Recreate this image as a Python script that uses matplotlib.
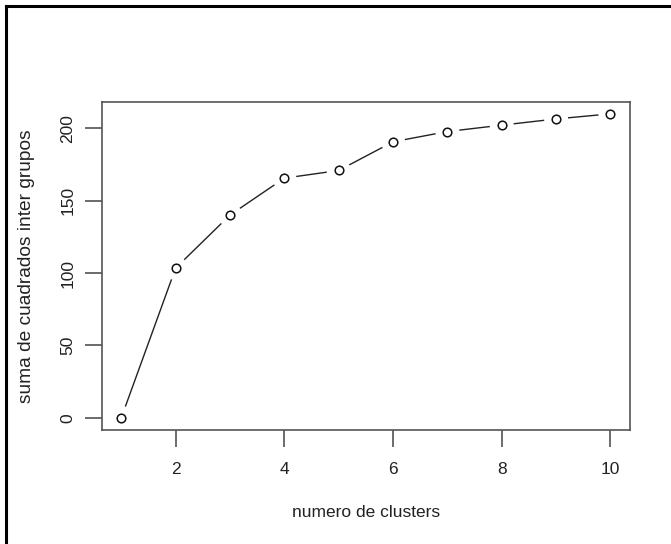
import numpy as np
import matplotlib
matplotlib.use("Agg")
import matplotlib.pyplot as plt
from matplotlib.lines import Line2D

# Between-group sum of squares for k = 1..10 clusters
clusters = [1, 2, 3, 4, 5, 6, 7, 8, 9, 10]
ss_between = [0, 103.4, 140.0, 165.5, 170.8, 190.6, 197.7, 202.1, 206.4, 209.9]
x_ticks = [2, 4, 6, 8, 10]
y_ticks = [0, 50, 100, 150, 200]

plt.rcParams["font.family"] = ["Liberation Sans", "DejaVu Sans"]

W, H, DPI = 671, 544, 100
fig = plt.figure(figsize=(W / DPI, H / DPI), dpi=DPI)
ax = fig.add_axes([101.7 / W, 1 - 430 / H, (630 - 101.7) / W, (430 - 101.7) / H])

# R-style 4% padding around the data range
xr = max(clusters) - min(clusters)
ymax = max(ss_between)
ax.set_xlim(min(clusters) - 0.04 * xr, max(clusters) + 0.04 * xr)
ax.set_ylim(0 - 0.04 * ymax, ymax + 0.04 * ymax)

# type="b": segments stopping short of each point
gap = 12.0  # pixels
pts = ax.transData.transform(np.column_stack([clusters, ss_between]))
inv = ax.transData.inverted()
for p0, p1 in zip(pts[:-1], pts[1:]):
    d = p1 - p0
    L = np.hypot(*d)
    if L <= 2 * gap:
        continue
    u = d / L
    a = inv.transform(p0 + u * gap)
    b = inv.transform(p1 - u * gap)
    ax.plot([a[0], b[0]], [a[1], b[1]], color="#222222", lw=1.0, solid_capstyle="butt")

ax.plot(clusters, ss_between, linestyle="none", marker="o", markersize=6.2,
        markerfacecolor="white", markeredgecolor="#111111", markeredgewidth=1.1)

for s in ax.spines.values():
    s.set_color("#555555")
    s.set_linewidth(1.2)

ax.set_xticks(x_ticks)
ax.set_yticks(y_ticks)
ax.tick_params(axis="both", length=12, width=1.1, color="#444444",
               labelsize=12.5, labelcolor="#222222")
ax.tick_params(axis="x", pad=11)
ax.tick_params(axis="y", pad=7)
for lbl in ax.get_yticklabels():
    lbl.set_rotation(90)
    lbl.set_va("center")

ax.set_xlabel("numero de clusters", fontsize=12.5, color="#222222", labelpad=20)
ax.set_ylabel("suma de cuadrados inter grupos", fontsize=13.8, color="#222222", labelpad=18)

# outer frame along the top and left edges
fig.add_artist(Line2D([5.5 / W, 1], [1 - 5.5 / H, 1 - 5.5 / H], transform=fig.transFigure,
                      color="black", lw=2.2))
fig.add_artist(Line2D([5.5 / W, 5.5 / W], [0, 1 - 5.5 / H], transform=fig.transFigure,
                      color="black", lw=2.2))

fig.savefig("out.png", dpi=DPI)
